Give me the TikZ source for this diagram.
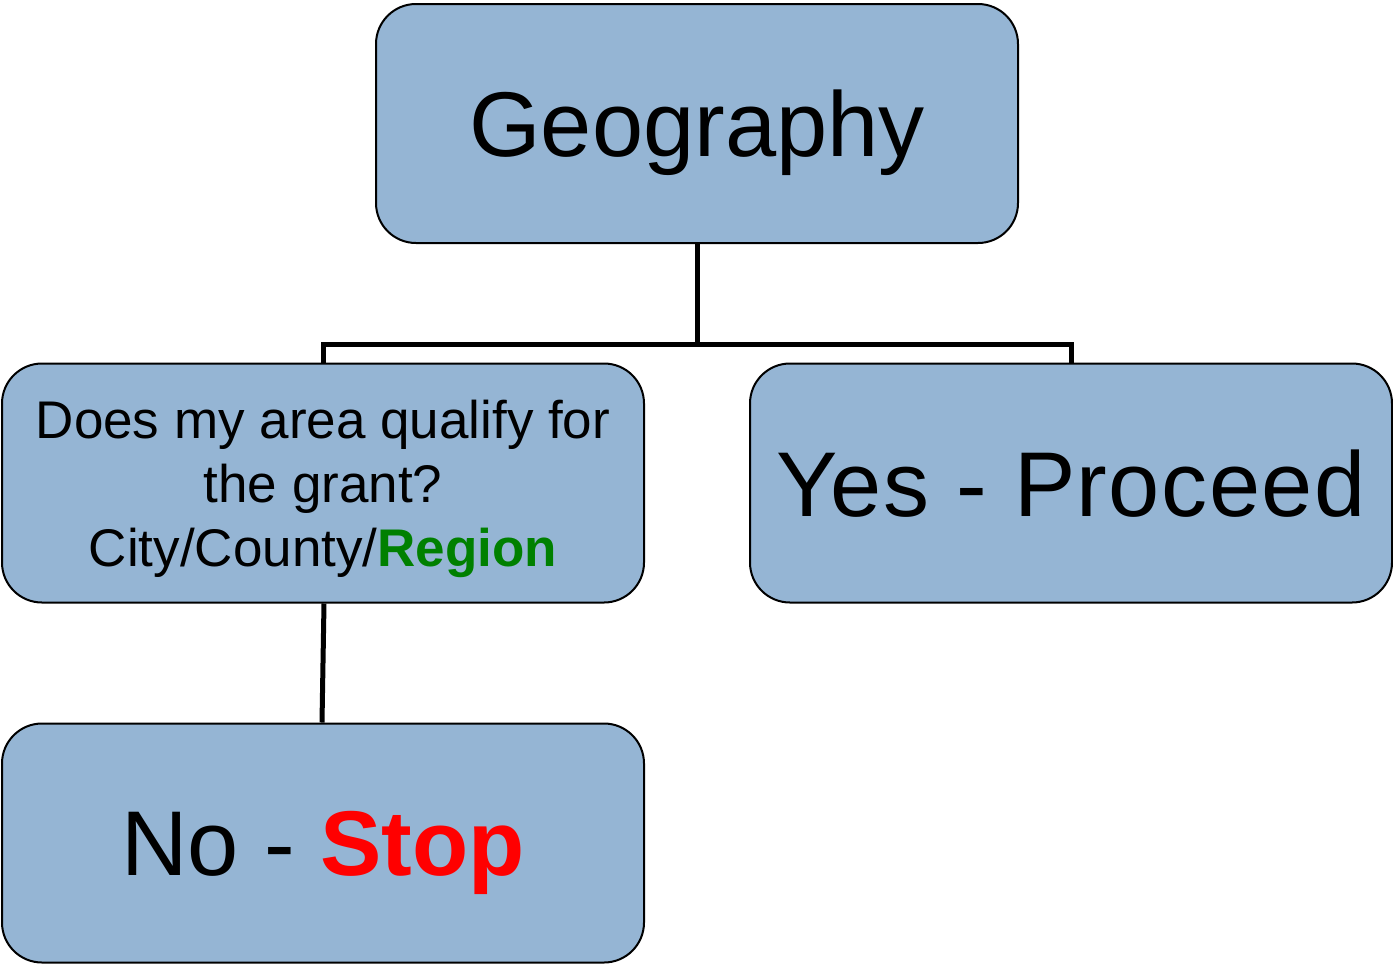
\documentclass[tikz,border=0pt]{standalone}
\usepackage{fontspec}
\setmainfont{Liberation Sans}
\definecolor{boxfill}{HTML}{95B5D4}
\definecolor{rgreen}{HTML}{008000}
\definecolor{sred}{HTML}{FF0000}
\begin{document}
\begin{tikzpicture}[x=0.5pt,y=-0.5pt,
  box/.style={draw=black, line width=1pt, fill=boxfill, rounded corners=20pt,
    minimum width=321pt, minimum height=119.5pt, inner sep=0pt, align=center, text depth=0pt},
  big/.style={font=\fontsize{46}{55}\selectfont},
  small/.style={font=\fontsize{26.5}{32}\selectfont},
  conn/.style={line width=2.5pt, black}]
\useasboundingbox (0,0) rectangle (1393,965);
\node[box, big] (geo) at (697,123.5) {Geography};
\node[box, small] (q) at (323,483) {Does my area qualify for\\the grant?\\City/County/\textbf{\color{rgreen}Region}};
\node[box, big] (yes) at (1071,483) {\addfontfeatures{LetterSpace=1.6}Yes - Proceed};
\node[box, big] (no) at (323,843) {No - \textbf{\color{sred}Stop}};
\coordinate (j) at (697,344);
\draw[conn] (geo.south) -- (j);
\draw[conn] (q.north) |- (j) -| (yes.north);
\draw[conn] ([xshift=0.5pt]q.south) -- ([xshift=-0.5pt]no.north);
\end{tikzpicture}
\end{document}
